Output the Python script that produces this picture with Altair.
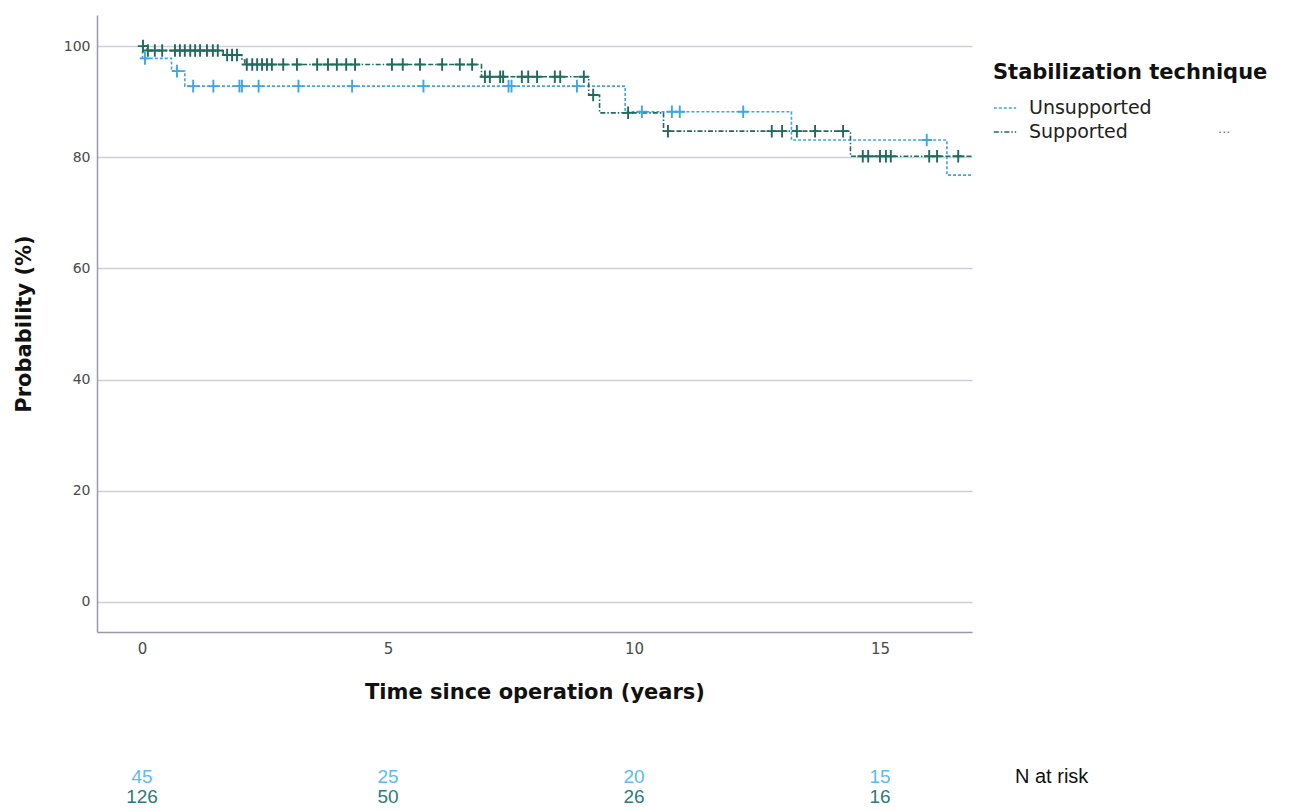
import altair as alt
import pandas as pd

groups = ["Unsupported", "Supported"]
colors = ["#3da5e8", "#1f6b5f"]

# Kaplan-Meier steps: time (years) where the estimate changes, and the new value (%)
unsup_time = [0, 0.01, 0.6, 0.87, 9.82, 13.2, 16.36, 17.5]
unsup_surv = [100, 97.8, 95.5, 92.8, 88.2, 83.1, 76.8, 76.8]
sup_time = [0, 0.1, 1.65, 2.03, 2.09, 6.9, 9.08, 9.3, 10.6, 14.4, 17.5]
sup_surv = [100, 99.2, 98.4, 97.5, 96.7, 94.5, 91.2, 88.0, 84.7, 80.2, 80.2]

# censoring times (years)
unsup_censor = [0.06, 0.71, 1.04, 1.45, 1.98, 2.03, 2.37, 3.18, 4.27, 5.72,
                7.45, 7.51, 8.84, 10.16, 10.77, 10.93, 12.22, 15.95]
sup_censor = [0.02, 0.12, 0.26, 0.41, 0.67, 0.77, 0.87, 0.98, 1.08, 1.18,
              1.32, 1.44, 1.54, 1.73, 1.83, 1.93, 2.13, 2.24, 2.34, 2.44,
              2.54, 2.64, 2.87, 3.15, 3.56, 3.78, 3.96, 4.15, 4.33, 5.08,
              5.30, 5.65, 6.10, 6.46, 6.71, 6.97, 7.07, 7.28, 7.34, 7.72,
              7.85, 8.03, 8.39, 8.50, 8.98, 9.17, 9.88, 10.69, 12.80, 13.01,
              13.31, 13.68, 14.25, 14.65, 14.76, 15.00, 15.12, 15.22, 16.00,
              16.16, 16.59]

# numbers at risk
risk_time = [0, 5, 10, 15]
unsup_risk = [45, 25, 20, 15]
sup_risk = [126, 50, 26, 16]


def level(times, survs, t):
    value = survs[0]
    for ti, si in zip(times, survs):
        if ti <= t:
            value = si
    return value


steps = pd.concat([
    pd.DataFrame({"time": unsup_time, "surv": unsup_surv, "group": groups[0]}),
    pd.DataFrame({"time": sup_time, "surv": sup_surv, "group": groups[1]}),
])

censored = pd.concat([
    pd.DataFrame({"time": unsup_censor,
                  "surv": [level(unsup_time, unsup_surv, t) for t in unsup_censor],
                  "group": groups[0]}),
    pd.DataFrame({"time": sup_censor,
                  "surv": [level(sup_time, sup_surv, t) for t in sup_censor],
                  "group": groups[1]}),
])

risk_unsup = pd.DataFrame({"time": risk_time, "n": unsup_risk})
risk_sup = pd.DataFrame({"time": risk_time, "n": sup_risk})

x_scale = alt.Scale(domain=[-0.915, 16.87], nice=False, zero=False)
y_scale = alt.Scale(domain=[-5.4, 105.6], nice=False, zero=False)
color_scale = alt.Scale(domain=groups, range=colors)
dash_scale = alt.Scale(domain=groups, range=[[3, 2], [5, 2, 1.5, 2]])

x_enc = alt.X(
    "time:Q", scale=x_scale,
    axis=alt.Axis(values=[0, 5, 10, 15], title="Time since operation (years)",
                  grid=False, ticks=False, labelPadding=9, titlePadding=25,
                  labelFont="DejaVu Sans", labelFontSize=15, labelColor="#4a4a4a"),
)
y_enc = alt.Y(
    "surv:Q", scale=y_scale,
    axis=alt.Axis(values=[0, 20, 40, 60, 80, 100], title="Probability (%)",
                  grid=True, ticks=False, labelPadding=7, titlePadding=29,
                  labelFont="DejaVu Sans", labelFontSize=14, labelColor="#4a4a4a"),
)

curves = alt.Chart(steps).mark_line(
    interpolate="step-after", strokeWidth=1.6, clip=True
).encode(
    x=x_enc,
    y=y_enc,
    color=alt.Color("group:N", scale=color_scale, sort=groups,
                    legend=alt.Legend(title="Stabilization technique")),
    strokeDash=alt.StrokeDash("group:N", scale=dash_scale, sort=groups,
                              legend=alt.Legend(title="Stabilization technique")),
)

ticks = alt.Chart(censored).mark_point(
    shape="M-1,0L1,0M0,-1.2L0,1.2", filled=False, size=110, strokeWidth=1.9,
    opacity=1, clip=True
).encode(
    x="time:Q",
    y="surv:Q",
    color=alt.Color("group:N", scale=color_scale, legend=None),
)

risk_font = "Liberation Sans"
risk_a = alt.Chart(risk_unsup).mark_text(
    font=risk_font, fontSize=19, baseline="middle", color="#5bbcf5"
).encode(x="time:Q", y=alt.value(762), text="n:Q")
risk_b = alt.Chart(risk_sup).mark_text(
    font=risk_font, fontSize=19, baseline="middle", color="#2e7a80"
).encode(x="time:Q", y=alt.value(782), text="n:Q")

risk_label = alt.Chart(pd.DataFrame({"label": ["N at risk"]})).mark_text(
    font=risk_font, fontSize=20, baseline="middle", align="left", color="#111111"
).encode(x=alt.value(918), y=alt.value(762), text="label:N")

ellipsis = alt.Chart(pd.DataFrame({"label": ["..."]})).mark_text(
    font="DejaVu Sans", fontSize=13, baseline="middle", align="left", color="#777777"
).encode(x=alt.value(1121), y=alt.value(114), text="label:N")

chart = alt.layer(curves, ticks, risk_a, risk_b, risk_label, ellipsis).properties(
    width=875,
    height=617,
    autosize=alt.AutoSizeParams(type="none"),
    padding={"left": 97, "top": 15, "right": 318, "bottom": 178},
).configure_view(
    stroke=None
).configure_axis(
    domainColor="#9797ad",
    domainWidth=1.5,
    gridColor="#cfcfd6",
    gridWidth=1.6,
    titleFont="DejaVu Sans",
    titleFontSize=21,
    titleFontWeight="bold",
    titleColor="#111111",
).configure_legend(
    orient="none",
    legendX=896,
    legendY=47,
    titleFont="DejaVu Sans",
    titleFontSize=21,
    titleFontWeight="bold",
    titleColor="#111111",
    titlePadding=13,
    titleLimit=400,
    labelFont="DejaVu Sans",
    labelFontSize=19,
    labelColor="#222222",
    labelLimit=300,
    symbolType="stroke",
    symbolSize=500,
    symbolStrokeWidth=1.6,
    rowPadding=2,
    labelOffset=12,
)

chart.save("out.html", embed_options={"renderer": "svg", "actions": False})
